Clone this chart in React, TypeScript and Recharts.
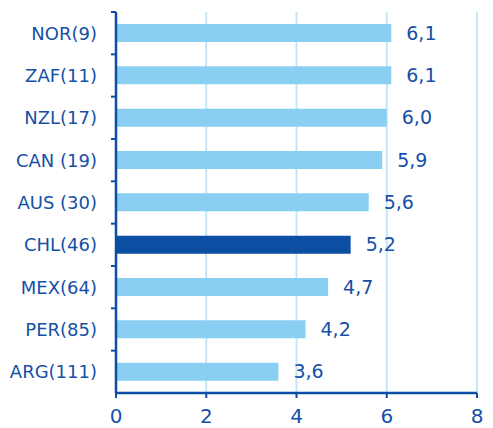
import React from 'react';
import { BarChart, Bar, XAxis, YAxis, CartesianGrid, Cell, LabelList } from 'recharts';

const categories = ['NOR(9)', 'ZAF(11)', 'NZL(17)', 'CAN (19)', 'AUS (30)', 'CHL(46)', 'MEX(64)', 'PER(85)', 'ARG(111)'];
const values = [6.1, 6.1, 6.0, 5.9, 5.6, 5.2, 4.7, 4.2, 3.6];
const highlighted = ['CHL(46)'];
const xTicks = [0, 2, 4, 6, 8];

const data = categories.map((c, i) => ({ name: c, value: values[i] }));

const W = 493;
const H = 428;
const M_TOP = 12;
const M_RIGHT = 16;
const X_AXIS_H = 35;
const Y_AXIS_W = 116;
const TICK_SIZE = 5;
const Y_TICK_MARGIN = 14;
const BAND = (H - M_TOP - X_AXIS_H) / categories.length;

const DARK = '#0b4ea2';
const LIGHT = '#88cff2';
const GRID = '#c3e7f8';
const TEXT = '#1550a6';
const FONT = '"DejaVu Sans", sans-serif';

const YTick = (props: any) => {
  const { x, y, payload } = props;
  const axisX = x + Y_TICK_MARGIN + TICK_SIZE;
  const top = y - BAND / 2;
  return (
    <g>
      <line x1={axisX - TICK_SIZE} x2={axisX} y1={top} y2={top} stroke={DARK} strokeWidth={2} />
      <text x={x} y={y} dy="0.36em" textAnchor="end" fill={TEXT} fontSize={18} fontFamily={FONT}>
        {payload.value}
      </text>
    </g>
  );
};

export default function App() {
  return (
    <div style={{ position: 'absolute', left: 0, top: 0, background: '#fff' }}>
      <BarChart
        width={W}
        height={H}
        data={data}
        layout="vertical"
        margin={{ top: M_TOP, right: M_RIGHT, bottom: 0, left: 0 }}
      >
        <CartesianGrid horizontal={false} stroke={GRID} strokeWidth={2} />
        <XAxis
          type="number"
          domain={[0, 8]}
          ticks={xTicks}
          height={X_AXIS_H}
          axisLine={{ stroke: DARK, strokeWidth: 2.5 }}
          tickLine={{ stroke: DARK, strokeWidth: 2 }}
          tickSize={TICK_SIZE}
          tickMargin={11}
          tick={{ fill: TEXT, fontSize: 20, fontFamily: FONT }}
        />
        <YAxis
          type="category"
          dataKey="name"
          width={Y_AXIS_W}
          axisLine={{ stroke: DARK, strokeWidth: 2.5 }}
          tickLine={false}
          tickSize={TICK_SIZE}
          tickMargin={Y_TICK_MARGIN}
          tick={<YTick />}
          interval={0}
        />
        <Bar dataKey="value" barSize={18} isAnimationActive={false}>
          {data.map((d) => (
            <Cell key={d.name} fill={highlighted.includes(d.name) ? DARK : LIGHT} />
          ))}
          <LabelList
            dataKey="value"
            position="right"
            offset={15}
            fill={TEXT}
            fontSize={19}
            fontFamily={FONT}
            formatter={(v: any) => Number(v).toFixed(1).replace('.', ',')}
          />
        </Bar>
      </BarChart>
    </div>
  );
}
